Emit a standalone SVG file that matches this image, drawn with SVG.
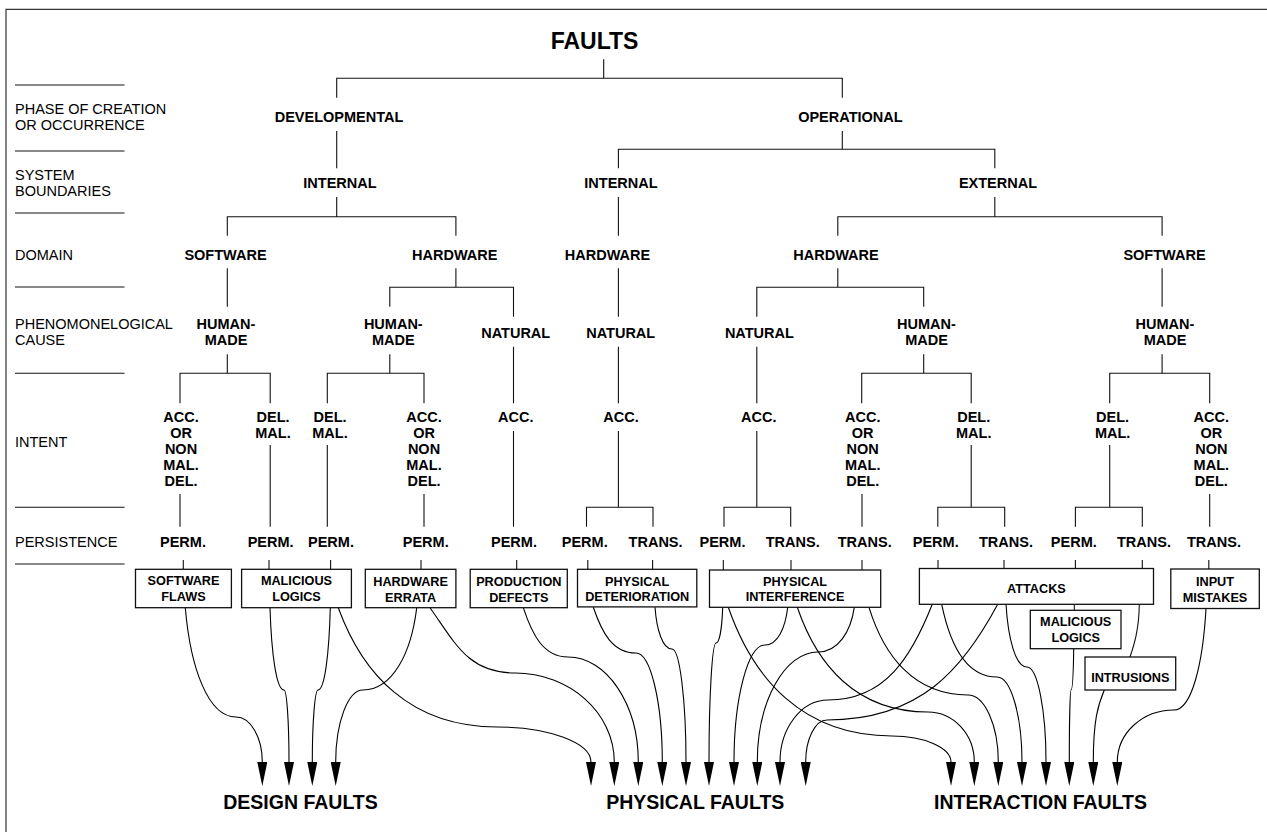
<svg xmlns="http://www.w3.org/2000/svg" width="1267" height="832" viewBox="0 0 1267 832">
<style>
text { font-family: "Liberation Sans", Arial, Helvetica, sans-serif; fill: #000; }
.title { font-size: 23px; font-weight: bold; text-anchor: middle; }
.lab { font-size: 14.5px; font-weight: bold; text-anchor: middle; }
.cat { font-size: 14.5px; }
.bt { font-size: 12.7px; font-weight: bold; text-anchor: middle; }
.big { font-size: 19.5px; font-weight: bold; text-anchor: middle; }
.box { fill: #fff; stroke: #111; stroke-width: 1.3; }
.ln { fill: none; stroke: #111; stroke-width: 1.1; }
.rule { fill: none; stroke: #111; stroke-width: 1.1; }
.frame { fill: none; stroke: #333; stroke-width: 1.2; }
.cv { fill: none; stroke: #000; stroke-width: 1.1; marker-end: url(#ah); }
</style>
<defs>
<marker id="ah" markerUnits="userSpaceOnUse" viewBox="0 0 24 10" refX="0" refY="5" markerWidth="24" markerHeight="10" orient="auto">
<path d="M0,0 L24,5 L0,10 Z" fill="#000"/>
</marker>
</defs>
<rect width="1267" height="832" fill="#fff"/>
<path class="frame" d="M6,832 V9.3 H1267"/>

<g id="categories">
<path class="rule" d="M15,85 H124.5 M15,151 H124.5 M15,213 H124.5 M15,287 H124.5 M15,373.3 H124.5 M15,507.3 H124.5 M15,564 H124.5"/>
<text class="cat" x="15" y="114">PHASE OF CREATION<tspan x="15" dy="16">OR OCCURRENCE</tspan></text>
<text class="cat" x="15" y="180">SYSTEM<tspan x="15" dy="16">BOUNDARIES</tspan></text>
<text class="cat" x="15" y="260">DOMAIN</text>
<text class="cat" x="15" y="329.3">PHENOMONELOGICAL<tspan x="15" dy="16">CAUSE</tspan></text>
<text class="cat" x="15" y="446.7">INTENT</text>
<text class="cat" x="15" y="547.3">PERSISTENCE</text>
</g>

<g id="connectors">
<path class="ln" d="M603.7,59.3 V78.3 M336.7,97.7 V78.3 H842.3 V97.7"/>
<path class="ln" d="M336.7,131 V168.3"/>
<path class="ln" d="M842.3,131 V149.3 M618.4,168.3 V149.3 H994.8 V168.3"/>
<path class="ln" d="M336.7,197 V216.7 M227.3,235.7 V216.7 H455.9 V235.7"/>
<path class="ln" d="M618.4,197 V235.7"/>
<path class="ln" d="M994.8,197 V216.7 M837.8,235.7 V216.7 H1162.1 V235.7"/>
<path class="ln" d="M227.3,268.3 V306.7"/>
<path class="ln" d="M455.9,268.3 V287.3 M389.8,306.7 V287.3 H513.5 V316.7"/>
<path class="ln" d="M618.4,268.3 V316.7"/>
<path class="ln" d="M837.8,268.3 V287.3 M756.8,316.7 V287.3 H923.7 V306.7"/>
<path class="ln" d="M1162.1,268.3 V306.7"/>
<path class="ln" d="M227.3,354.3 V373.3 M180,403.3 V373.3 H270.2 V403.3"/>
<path class="ln" d="M389.8,354.3 V373.3 M327.3,403.3 V373.3 H424 V403.3"/>
<path class="ln" d="M513.5,346.7 V403.3 M618.4,346.7 V403.3 M756.8,346.7 V403.3"/>
<path class="ln" d="M923.7,354.3 V373.3 M861.7,403.3 V373.3 H971.2 V403.3"/>
<path class="ln" d="M1162.1,354.3 V373.3 M1109.7,403.3 V373.3 H1209.7 V403.3"/>
<path class="ln" d="M180,494 V526.7 M270.2,445 V526.7 M327.3,445 V526.7 M424,494 V526.7 M513.5,431 V526.7 M862,494 V526.7 M1209.7,494 V526.7"/>
<path class="ln" d="M618.4,431 V507.3 M586.5,526.7 V507.3 H653 V526.7"/>
<path class="ln" d="M756.8,431 V507.3 M724,526.7 V507.3 H790.7 V526.7"/>
<path class="ln" d="M971.2,445 V507.3 M937.8,526.7 V507.3 H1004.7 V526.7"/>
<path class="ln" d="M1109.7,445 V507.3 M1075.4,526.7 V507.3 H1142.3 V526.7"/>
<path class="ln" d="M183.3,560 V569.3 M269,560 V569.3 M330.6,560 V569.3 M421,560 V569.3 M516.7,560 V569.3 M587.8,560 V569.3 M652.6,560 V569.3 M723.3,560 V570 M791,560 V570 M862,560 V570 M938,560 V568.5 M1004,560 V568.5 M1075.4,560 V568.5 M1142.3,560 V568.5 M1208.8,560 V569"/>
<path class="ln" d="M1074.3,604.3 V610.3"/>
<path class="ln" d="M1139.3,604.3 C1139,630 1134,645 1130,657"/>

<path class="cv" d="M185.3,607.7 C190.4,667.8 208.1,717 236,717 C250.5,717 262.3,737.2 262.3,762"/>
<path class="cv" d="M270,607.7 C271.4,653 276.3,690 284,690 C286.8,690 289,722.4 289,762"/>
<path class="cv" d="M330.3,607.7 C329.1,653 324.8,690 318,690 C314.9,690 312.3,722.4 312.3,762"/>
<path class="cv" d="M416.7,607.7 C411.3,653 392.5,690 363,690 C348,690 335.7,722.4 335.7,762"/>

<path class="cv" d="M338.3,607.7 C362.1,673.3 409.7,727 497,727 C548.7,727 591,742.8 591,762"/>
<path class="cv" d="M430,607.7 C455.5,643.6 468.3,673 515,673 C569.6,673 614.3,713 614.3,762"/>
<path class="cv" d="M523.3,607.7 C532.2,634.8 543.4,657 568,657 C606.7,657 638.3,704.3 638.3,762"/>
<path class="cv" d="M593.3,607.3 C601.8,632.4 612.5,653 636,653 C650.5,653 662.3,702 662.3,762"/>
<path class="cv" d="M655,607.3 C656.7,630.2 662.7,649 672,649 C679.7,649 686,699.9 686,762"/>
<path class="cv" d="M722.7,607.3 C722,627 719.7,643 716,643 C712.2,643 709,696.5 709,762"/>
<path class="cv" d="M787.7,607.3 C785.4,628 777.5,645 765,645 C748,645 734,697.7 734,762"/>
<path class="cv" d="M854.3,607.3 C850.7,631.9 838,652 818,652 C784.6,652 757.3,701.5 757.3,762"/>
<path class="cv" d="M932.3,604.3 C911.4,656.9 885.4,700 828,700 C801.6,700 780,727.9 780,762"/>
<path class="cv" d="M997.7,604.3 C963.6,667.9 920.9,720 827,720 C815.3,720 805.7,738.9 805.7,762"/>

<path class="cv" d="M728.3,607.3 C752.9,678.1 802,736 892,736 C924.5,736 951,747.7 951,762"/>
<path class="cv" d="M797.3,607.3 C816.9,664.9 856.1,712 928,712 C953.5,712 974.3,734.5 974.3,762"/>
<path class="cv" d="M869,607.3 C883.9,655.5 913.6,695 968,695 C984.7,695 998.3,725.2 998.3,762"/>
<path class="cv" d="M941.7,604.3 C950,644.3 966.6,677 997,677 C1010.8,677 1022,715.3 1022,762"/>
<path class="cv" d="M1006,604.3 C1008.1,638.8 1015.5,667 1027,667 C1037.5,667 1046,709.8 1046,762"/>
<path class="cv" d="M1073.7,648.7 C1073.4,671.4 1072.5,690 1071,690 C1070.1,690 1069.3,722.4 1069.3,762"/>
<path class="cv" d="M1104.3,690 C1098,705 1093.3,720 1093.3,762"/>
<path class="cv" d="M1206,608.7 C1202.8,664.4 1191.6,710 1174,710 C1142.1,710 1117.3,733.4 1117.3,762"/>
</g>

<g id="n-faults"><text class="title" x="594.5" y="49">FAULTS</text></g>
<g id="n-developmental"><text class="lab" x="339" y="122.3">DEVELOPMENTAL</text></g>
<g id="n-operational"><text class="lab" x="850.4" y="122.3">OPERATIONAL</text></g>
<g id="n-internal-dev"><text class="lab" x="340" y="188.3">INTERNAL</text></g>
<g id="n-internal-op"><text class="lab" x="621" y="188.3">INTERNAL</text></g>
<g id="n-external"><text class="lab" x="998" y="188.3">EXTERNAL</text></g>
<g id="n-software-1"><text class="lab" x="225.5" y="260">SOFTWARE</text></g>
<g id="n-hardware-1"><text class="lab" x="454.7" y="260">HARDWARE</text></g>
<g id="n-hardware-2"><text class="lab" x="607.5" y="260">HARDWARE</text></g>
<g id="n-hardware-3"><text class="lab" x="836" y="260">HARDWARE</text></g>
<g id="n-software-2"><text class="lab" x="1164.5" y="260">SOFTWARE</text></g>

<g id="n-human-1"><text class="lab" x="226" y="329.3">HUMAN-<tspan x="226" dy="16">MADE</tspan></text></g>
<g id="n-human-2"><text class="lab" x="393.3" y="329.3">HUMAN-<tspan x="393.3" dy="16">MADE</tspan></text></g>
<g id="n-natural-1"><text class="lab" x="515.7" y="337.7">NATURAL</text></g>
<g id="n-natural-2"><text class="lab" x="620.7" y="337.7">NATURAL</text></g>
<g id="n-natural-3"><text class="lab" x="759.4" y="337.7">NATURAL</text></g>
<g id="n-human-3"><text class="lab" x="926.5" y="329.3">HUMAN-<tspan x="926.5" dy="16">MADE</tspan></text></g>
<g id="n-human-4"><text class="lab" x="1165" y="329.3">HUMAN-<tspan x="1165" dy="16">MADE</tspan></text></g>

<g id="n-intent-1"><text class="lab" x="181" y="422.3">ACC.<tspan x="181" dy="16">OR</tspan><tspan x="181" dy="16">NON</tspan><tspan x="181" dy="16">MAL.</tspan><tspan x="181" dy="16">DEL.</tspan></text></g>
<g id="n-intent-2"><text class="lab" x="273" y="422.3">DEL.<tspan x="273" dy="16">MAL.</tspan></text></g>
<g id="n-intent-3"><text class="lab" x="330" y="422.3">DEL.<tspan x="330" dy="16">MAL.</tspan></text></g>
<g id="n-intent-4"><text class="lab" x="424" y="422.3">ACC.<tspan x="424" dy="16">OR</tspan><tspan x="424" dy="16">NON</tspan><tspan x="424" dy="16">MAL.</tspan><tspan x="424" dy="16">DEL.</tspan></text></g>
<g id="n-intent-5"><text class="lab" x="515.7" y="422.3">ACC.</text></g>
<g id="n-intent-6"><text class="lab" x="621" y="422.3">ACC.</text></g>
<g id="n-intent-7"><text class="lab" x="758.8" y="422.3">ACC.</text></g>
<g id="n-intent-8"><text class="lab" x="862.7" y="422.3">ACC.<tspan x="862.7" dy="16">OR</tspan><tspan x="862.7" dy="16">NON</tspan><tspan x="862.7" dy="16">MAL.</tspan><tspan x="862.7" dy="16">DEL.</tspan></text></g>
<g id="n-intent-9"><text class="lab" x="973.7" y="422.3">DEL.<tspan x="973.7" dy="16">MAL.</tspan></text></g>
<g id="n-intent-10"><text class="lab" x="1112.6" y="422.3">DEL.<tspan x="1112.6" dy="16">MAL.</tspan></text></g>
<g id="n-intent-11"><text class="lab" x="1211.3" y="422.3">ACC.<tspan x="1211.3" dy="16">OR</tspan><tspan x="1211.3" dy="16">NON</tspan><tspan x="1211.3" dy="16">MAL.</tspan><tspan x="1211.3" dy="16">DEL.</tspan></text></g>

<g id="n-pers-1"><text class="lab" x="183" y="547.3">PERM.</text></g>
<g id="n-pers-2"><text class="lab" x="270.6" y="547.3">PERM.</text></g>
<g id="n-pers-3"><text class="lab" x="331" y="547.3">PERM.</text></g>
<g id="n-pers-4"><text class="lab" x="425.7" y="547.3">PERM.</text></g>
<g id="n-pers-5"><text class="lab" x="514" y="547.3">PERM.</text></g>
<g id="n-pers-6"><text class="lab" x="584.7" y="547.3">PERM.</text></g>
<g id="n-pers-7"><text class="lab" x="655.6" y="547.3">TRANS.</text></g>
<g id="n-pers-8"><text class="lab" x="722.5" y="547.3">PERM.</text></g>
<g id="n-pers-9"><text class="lab" x="792.7" y="547.3">TRANS.</text></g>
<g id="n-pers-10"><text class="lab" x="864.7" y="547.3">TRANS.</text></g>
<g id="n-pers-11"><text class="lab" x="935.7" y="547.3">PERM.</text></g>
<g id="n-pers-12"><text class="lab" x="1006" y="547.3">TRANS.</text></g>
<g id="n-pers-13"><text class="lab" x="1073.8" y="547.3">PERM.</text></g>
<g id="n-pers-14"><text class="lab" x="1144" y="547.3">TRANS.</text></g>
<g id="n-pers-15"><text class="lab" x="1214" y="547.3">TRANS.</text></g>

<g id="b-software-flaws"><rect class="box" x="135.5" y="569.3" width="95.9" height="38.4"/><text class="bt" x="183.5" y="585">SOFTWARE<tspan x="183.5" dy="16">FLAWS</tspan></text></g>
<g id="b-malicious-logics-1"><rect class="box" x="241.6" y="569.3" width="109.8" height="38.4"/><text class="bt" x="296.5" y="585">MALICIOUS<tspan x="296.5" dy="16">LOGICS</tspan></text></g>
<g id="b-hardware-errata"><rect class="box" x="365.3" y="569.3" width="90.6" height="38.4"/><text class="bt" x="410.6" y="586">HARDWARE<tspan x="410.6" dy="16">ERRATA</tspan></text></g>
<g id="b-production-defects"><rect class="box" x="470.2" y="569.3" width="97.1" height="38.4"/><text class="bt" x="518.8" y="586">PRODUCTION<tspan x="518.8" dy="16">DEFECTS</tspan></text></g>
<g id="b-physical-deterioration"><rect class="box" x="577.5" y="569.3" width="119.3" height="37.6"/><text class="bt" x="637.2" y="585.7">PHYSICAL<tspan x="637.2" dy="15.6">DETERIORATION</tspan></text></g>
<g id="b-physical-interference"><rect class="box" x="709.5" y="570" width="171.2" height="37.3"/><text class="bt" x="795" y="585.7">PHYSICAL<tspan x="795" dy="15.6">INTERFERENCE</tspan></text></g>
<g id="b-attacks"><rect class="box" x="919.4" y="568.5" width="234.1" height="35.8"/><text class="bt" x="1036.4" y="593.3">ATTACKS</text></g>
<g id="b-input-mistakes"><rect class="box" x="1170.8" y="569" width="88.5" height="39.5"/><text class="bt" x="1215" y="586">INPUT<tspan x="1215" dy="15.7">MISTAKES</tspan></text></g>
<g id="b-malicious-logics-2"><rect class="box" x="1030.3" y="610.3" width="90.7" height="38.4"/><text class="bt" x="1075.7" y="626">MALICIOUS<tspan x="1075.7" dy="16.3">LOGICS</tspan></text></g>
<g id="b-intrusions"><rect class="box" x="1085" y="657" width="90.7" height="33"/><text class="bt" x="1130.3" y="681.7">INTRUSIONS</text></g>

<g id="t-design"><text class="big" x="300.5" y="809.3">DESIGN FAULTS</text></g>
<g id="t-physical"><text class="big" x="695.3" y="809.3">PHYSICAL FAULTS</text></g>
<g id="t-interaction"><text class="big" x="1040.5" y="809.3">INTERACTION FAULTS</text></g>
</svg>
